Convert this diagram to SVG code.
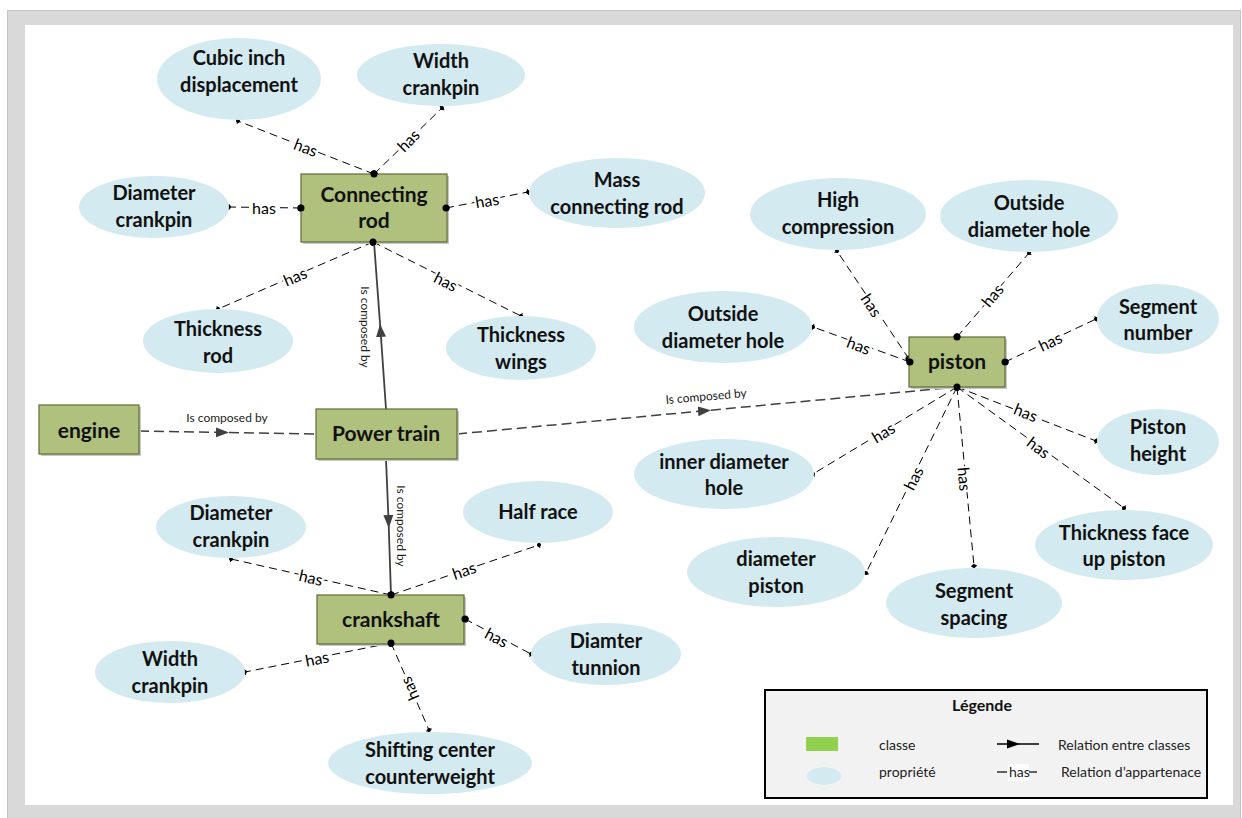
<svg xmlns="http://www.w3.org/2000/svg" width="1242" height="818" viewBox="0 0 1242 818">
<style>
.cls{fill:#b0c07d;stroke:#5f6c36;stroke-width:1.2}
.sh{fill:#c8c8c8}
.prop{fill:#d3eaf0}
.ct{font-family:Lato,"Liberation Sans",sans-serif;font-weight:bold;font-size:21px;fill:#111;text-anchor:middle}
.pt{font-family:Lato,"Liberation Sans",sans-serif;font-weight:bold;font-size:20px;fill:#111;text-anchor:middle}
.has{fill:none;stroke:#000;stroke-width:1;stroke-dasharray:8 5;marker-start:url(#dotB);marker-end:url(#dotS)}
.lbl{font-family:Lato,"Liberation Sans",sans-serif;font-size:16px;fill:#000;stroke:#fff;stroke-width:4;paint-order:stroke;text-anchor:middle;dominant-baseline:central}
.comp{fill:none;stroke:#404040;stroke-width:1.8;marker-mid:url(#arr)}
.compd{fill:none;stroke:#404040;stroke-width:1.5;stroke-dasharray:10 5;marker-mid:url(#arr)}
.cl{font-family:Lato,"Liberation Sans",sans-serif;font-size:12px;fill:#222;text-anchor:middle;dominant-baseline:central}
.lg{font-family:Lato,"Liberation Sans",sans-serif;font-size:14px;fill:#222}
</style>
<defs>
<marker id="dotB" markerUnits="userSpaceOnUse" markerWidth="10" markerHeight="10" refX="5" refY="5" orient="auto"><circle cx="5" cy="5" r="3.5" fill="#000"/></marker>
<marker id="dotS" markerUnits="userSpaceOnUse" markerWidth="10" markerHeight="10" refX="5" refY="5" orient="auto"><circle cx="5" cy="5" r="2" fill="#000"/><line x1="5" y1="2" x2="5" y2="8" stroke="#000" stroke-width="1"/></marker>
<marker id="arr" markerUnits="userSpaceOnUse" markerWidth="14" markerHeight="12" refX="7" refY="5" orient="auto"><path d="M0,0 L13,5 L0,10 z" fill="#404040"/></marker>
</defs>
<rect x="0" y="0" width="1242" height="818" fill="#ffffff"/>
<rect x="7.5" y="10.5" width="1233" height="810" fill="#d9d9d9" stroke="#c4c4c4"/>
<rect x="25" y="25" width="1208" height="780" fill="#ffffff"/>

<g id="connectors">
<!-- Connecting rod -->
<path class="has" d="M374,174 L238,121"/>
<text class="lbl" transform="translate(306,147) rotate(21)">has</text>
<path class="has" d="M374,174 L442,108"/>
<text class="lbl" transform="translate(408,140) rotate(-45)">has</text>
<path class="has" d="M301,208 L229,207"/>
<text class="lbl" transform="translate(264,207)">has</text>
<path class="has" d="M446,208 L528,192"/>
<text class="lbl" transform="translate(487,200) rotate(-9)">has</text>
<path class="has" d="M373,242 L218,309"/>
<text class="lbl" transform="translate(295,276) rotate(-23)">has</text>
<path class="has" d="M373,242 L521,316"/>
<text class="lbl" transform="translate(446,281) rotate(27)">has</text>
<!-- composition -->
<path class="comp" d="M386,409 L380.5,330 L374,242"/>
<text class="cl" transform="translate(365,327) rotate(90)">Is composed by</text>
<path class="compd" d="M139,431 L223,432.5 L316,434"/>
<text class="cl" transform="translate(227,417)">Is composed by</text>
<path class="compd" d="M457,434 L705,410.7 L957,387"/>
<text class="cl" transform="translate(706,396) rotate(-5)">Is composed by</text>
<path class="comp" d="M386,459 L388.6,522 L391,595"/>
<text class="cl" transform="translate(401,526) rotate(90)">Is composed by</text>
<!-- crankshaft -->
<path class="has" d="M391,595 L231,559"/>
<text class="lbl" transform="translate(311,577) rotate(13)">has</text>
<path class="has" d="M391,595 L539,545"/>
<text class="lbl" transform="translate(464,570) rotate(-19)">has</text>
<path class="has" d="M465,619 L531,654"/>
<text class="lbl" transform="translate(497,637) rotate(28)">has</text>
<path class="has" d="M391,643 L245,672"/>
<text class="lbl" transform="translate(317,658) rotate(-11)">has</text>
<path class="has" d="M391,643 L429,730"/>
<text class="lbl" transform="translate(409,689) rotate(-114)">has</text>
<!-- piston -->
<path class="has" d="M910,362 L813,327"/>
<text class="lbl" transform="translate(859,345) rotate(21)">has</text>
<path class="has" d="M909,359 L837,251"/>
<text class="lbl" transform="translate(872,305) rotate(57)">has</text>
<path class="has" d="M957,337 L1029,253"/>
<text class="lbl" transform="translate(992,295) rotate(-50)">has</text>
<path class="has" d="M1005,362 L1096,319"/>
<text class="lbl" transform="translate(1050,341) rotate(-25)">has</text>
<path class="has" d="M957,387 L1096,441"/>
<text class="lbl" transform="translate(1026,412) rotate(22)">has</text>
<path class="has" d="M957,387 L1124,508"/>
<text class="lbl" transform="translate(1039,447) rotate(37)">has</text>
<path class="has" d="M957,387 L974,566"/>
<text class="lbl" transform="translate(965,479) rotate(85)">has</text>
<path class="has" d="M957,387 L866,573"/>
<text class="lbl" transform="translate(913,478) rotate(-64)">has</text>
<path class="has" d="M957,387 L813,474"/>
<text class="lbl" transform="translate(883,432) rotate(-31)">has</text>
</g>

<g id="n-cubic"><ellipse class="prop" cx="239" cy="79" rx="82" ry="41"/><text class="pt" x="239" y="65">Cubic inch</text><text class="pt" x="239" y="92">displacement</text></g>
<g id="n-width1"><ellipse class="prop" cx="441" cy="75" rx="84" ry="31"/><text class="pt" x="441" y="68">Width</text><text class="pt" x="441" y="95">crankpin</text></g>
<g id="n-diam1"><ellipse class="prop" cx="154" cy="207" rx="75" ry="31"/><text class="pt" x="154" y="200">Diameter</text><text class="pt" x="154" y="227">crankpin</text></g>
<g id="n-mass"><ellipse class="prop" cx="617" cy="193" rx="88" ry="35"/><text class="pt" x="617" y="187">Mass</text><text class="pt" x="617" y="214">connecting rod</text></g>
<g id="n-thrrod"><ellipse class="prop" cx="218" cy="341" rx="75" ry="32"/><text class="pt" x="218" y="336">Thickness</text><text class="pt" x="218" y="363">rod</text></g>
<g id="n-thwings"><ellipse class="prop" cx="521" cy="348" rx="75" ry="32"/><text class="pt" x="521" y="342">Thickness</text><text class="pt" x="521" y="369">wings</text></g>
<g id="n-highc"><ellipse class="prop" cx="838" cy="214" rx="88" ry="36"/><text class="pt" x="838" y="207">High</text><text class="pt" x="838" y="234">compression</text></g>
<g id="n-odh1"><ellipse class="prop" cx="1029" cy="216" rx="89" ry="36"/><text class="pt" x="1029" y="210">Outside</text><text class="pt" x="1029" y="237">diameter hole</text></g>
<g id="n-odh2"><ellipse class="prop" cx="723" cy="327" rx="89" ry="36"/><text class="pt" x="723" y="321">Outside</text><text class="pt" x="723" y="348">diameter hole</text></g>
<g id="n-segnum"><ellipse class="prop" cx="1158" cy="319" rx="61" ry="35"/><text class="pt" x="1158" y="314">Segment</text><text class="pt" x="1158" y="340">number</text></g>
<g id="n-pheight"><ellipse class="prop" cx="1158" cy="442" rx="61" ry="33"/><text class="pt" x="1158" y="434">Piston</text><text class="pt" x="1158" y="461">height</text></g>
<g id="n-idh"><ellipse class="prop" cx="724" cy="474" rx="90" ry="35"/><text class="pt" x="724" y="469">inner diameter</text><text class="pt" x="724" y="495">hole</text></g>
<g id="n-thface"><ellipse class="prop" cx="1124" cy="545" rx="89" ry="35"/><text class="pt" x="1124" y="540">Thickness face</text><text class="pt" x="1124" y="566">up piston</text></g>
<g id="n-dpiston"><ellipse class="prop" cx="776" cy="572" rx="89" ry="35"/><text class="pt" x="776" y="566">diameter</text><text class="pt" x="776" y="593">piston</text></g>
<g id="n-segsp"><ellipse class="prop" cx="974" cy="603" rx="88" ry="35"/><text class="pt" x="974" y="598">Segment</text><text class="pt" x="974" y="625">spacing</text></g>
<g id="n-diam2"><ellipse class="prop" cx="231" cy="527" rx="75" ry="31"/><text class="pt" x="231" y="520">Diameter</text><text class="pt" x="231" y="547">crankpin</text></g>
<g id="n-halfrace"><ellipse class="prop" cx="538" cy="512" rx="75" ry="31"/><text class="pt" x="538" y="519">Half race</text></g>
<g id="n-width2"><ellipse class="prop" cx="170" cy="672" rx="75" ry="31"/><text class="pt" x="170" y="666">Width</text><text class="pt" x="170" y="693">crankpin</text></g>
<g id="n-tunnion"><ellipse class="prop" cx="606" cy="654" rx="75" ry="31"/><text class="pt" x="606" y="648">Diamter</text><text class="pt" x="606" y="675">tunnion</text></g>
<g id="n-shift"><ellipse class="prop" cx="430" cy="763" rx="102" ry="31"/><text class="pt" x="430" y="757">Shifting center</text><text class="pt" x="430" y="784">counterweight</text></g>

<g id="n-conrod"><rect class="sh" x="303" y="176" width="146" height="68"/><rect class="cls" x="301" y="174" width="146" height="68"/><text class="ct" x="374" y="202">Connecting</text><text class="ct" x="374" y="228">rod</text></g>
<g id="n-engine"><rect class="sh" x="41" y="407" width="100" height="49"/><rect class="cls" x="39" y="405" width="100" height="49"/><text class="ct" x="89" y="438">engine</text></g>
<g id="n-powertrain"><rect class="sh" x="318" y="411" width="141" height="50"/><rect class="cls" x="316" y="409" width="141" height="50"/><text class="ct" x="386" y="441">Power train</text></g>
<g id="n-piston"><rect class="sh" x="911" y="339" width="96" height="50"/><rect class="cls" x="909" y="337" width="96" height="50"/><text class="ct" x="957" y="369">piston</text></g>
<g id="n-crankshaft"><rect class="sh" x="319" y="597" width="147" height="49"/><rect class="cls" x="317" y="595" width="147" height="49"/><text class="ct" x="391" y="627">crankshaft</text></g>

<!-- dots over boxes -->
<g id="endpoints" fill="#000">
<circle cx="374" cy="174" r="3.5"/><circle cx="301" cy="208" r="3.5"/><circle cx="446" cy="208" r="3.5"/><circle cx="373" cy="242" r="3.5"/>
<circle cx="391" cy="595" r="3.5"/><circle cx="465" cy="619" r="3.5"/><circle cx="391" cy="643" r="3.5"/>
<circle cx="910" cy="362" r="3.5"/><circle cx="957" cy="337" r="3.5"/><circle cx="1005" cy="362" r="3.5"/><circle cx="957" cy="387" r="3.5"/>
</g>

<g id="legend">
<rect x="765" y="690" width="442" height="108" fill="#f2f2f2" stroke="#000" stroke-width="2"/>
<text x="982" y="711" font-family="Lato,'Liberation Sans',sans-serif" font-weight="bold" font-size="16" fill="#111" text-anchor="middle">Légende</text>
<rect x="806" y="737" width="32" height="14" fill="#92d050"/>
<text class="lg" x="879" y="750">classe</text>
<ellipse cx="824" cy="776" rx="17" ry="9" fill="#d3eaf0"/>
<text class="lg" x="879" y="777">propriété</text>
<line x1="997" y1="744" x2="1039" y2="744" stroke="#000" stroke-width="1.5"/>
<path d="M1007,739.5 L1020,744 L1007,748.5 z" fill="#000"/>
<text class="lg" x="1058" y="750">Relation entre classes</text>
<line x1="997" y1="772" x2="1007" y2="772" stroke="#000" stroke-width="1.2"/>
<rect x="1008" y="764" width="21" height="17" fill="#fff"/>
<text class="lg" x="1009" y="777">has</text>
<line x1="1029" y1="772" x2="1037" y2="772" stroke="#000" stroke-width="1.2"/>
<text class="lg" x="1061" y="777">Relation d’appartenace</text>
</g>
</svg>
